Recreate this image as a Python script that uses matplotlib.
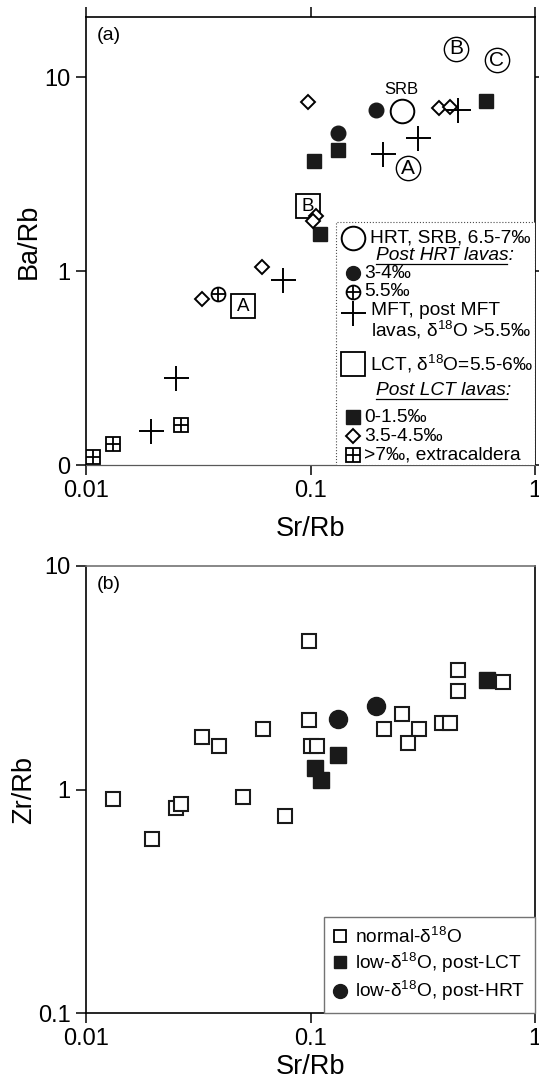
import matplotlib
matplotlib.use("Agg")
import matplotlib.pyplot as plt
from matplotlib.lines import Line2D
from matplotlib.patches import Rectangle
from matplotlib.ticker import NullLocator

plt.rcParams["font.family"] = ["Liberation Sans", "DejaVu Sans"]
plt.rcParams["mathtext.fontset"] = "custom"
plt.rcParams["mathtext.rm"] = "Liberation Sans"
plt.rcParams["mathtext.it"] = "Liberation Sans:italic"

D18 = r"δ$\mathregular{^{18}}$O"

# ---- panel (a): Ba/Rb vs Sr/Rb ----
hrt_x, hrt_y = [0.255], [6.65]                      # HRT, SRB
hrt_34_x, hrt_34_y = [0.195, 0.132], [6.8, 5.12]    # post HRT, 3-4 permil
hrt_55_x, hrt_55_y = [0.0388], [0.76]               # post HRT, 5.5 permil
mft_x = [0.453, 0.30, 0.21, 0.0757, 0.0252, 0.0195]
mft_y = [6.8, 4.83, 4.0, 0.90, 0.28, 0.149]
lct_x, lct_y, lct_lab = [0.050, 0.097], [0.66, 2.16], ["A", "B"]
lct_lo_x = [0.604, 0.132, 0.104, 0.11]              # post LCT, 0-1.5 permil
lct_lo_y = [7.57, 4.19, 3.68, 1.55]
lct_mid_x = [0.097, 0.373, 0.418, 0.106, 0.1026, 0.033, 0.061]   # 3.5-4.5
lct_mid_y = [7.48, 6.89, 6.97, 1.92, 1.81, 0.718, 1.05]
extra_x, extra_y = [0.0107, 0.0132, 0.0266], [0.11, 0.129, 0.16]  # >7 permil
circ_x, circ_y, circ_lab = [0.271, 0.444, 0.677], [3.39, 14.0, 12.2], ["A", "B", "C"]

# ---- panel (b): Zr/Rb vs Sr/Rb ----
norm_x = [0.0132, 0.0197, 0.0252, 0.0266, 0.033, 0.0393, 0.0617, 0.050, 0.0766,
          0.098, 0.098, 0.100, 0.107, 0.212, 0.255, 0.303, 0.271, 0.384, 0.418,
          0.453, 0.453, 0.72]
norm_y = [0.91, 0.60, 0.83, 0.857, 1.71, 1.56, 1.87, 0.93, 0.765,
          4.63, 2.05, 1.56, 1.56, 1.87, 2.18, 1.87, 1.62, 1.99, 1.99,
          3.43, 2.77, 3.03]
low_lct_x, low_lct_y = [0.61, 0.133, 0.105, 0.111], [3.10, 1.42, 1.25, 1.10]
low_hrt_x, low_hrt_y = [0.133, 0.195], [2.07, 2.37]

W, H = 539, 1086
fig = plt.figure(figsize=(W / 100, H / 100), dpi=100)
ax_a = fig.add_axes([86 / W, 1 - 465 / H, 449 / W, 448 / H])
ax_b = fig.add_axes([86 / W, 1 - 1013 / H, 449 / W, 447 / H])

for ax in (ax_a, ax_b):
    ax.set_xscale("log")
    ax.set_yscale("log")
    ax.set_xlim(0.01, 1)
    ax.xaxis.set_minor_locator(NullLocator())
    ax.yaxis.set_minor_locator(NullLocator())
    ax.set_xticks([0.01, 0.1, 1], ["0.01", "0.1", "1"])
    ax.tick_params(direction="out", length=7, width=1.1, labelsize=17, pad=4)
    for s in ax.spines.values():
        s.set_linewidth(1.2)

# panel (a)
ax = ax_a
ax.set_ylim(0.1, 20.4)
ax.set_yticks([0.1, 1, 10], ["0", "1", "10"])
ax.tick_params(top=True, right=True)
ax.spines["bottom"].set_color("0.35")
ax.spines["bottom"].set_linewidth(0.9)
ax.set_xlabel("Sr/Rb", fontsize=19.5, labelpad=10)
ax.set_ylabel("Ba/Rb", fontsize=19.5)
ax.yaxis.set_label_coords(-0.098, 0.5)

ax.plot(lct_x, lct_y, "s", ms=17, mfc="white", mec="k", mew=1.3, zorder=2)
for x, y, t in zip(lct_x, lct_y, lct_lab):
    ax.text(x, y, t, fontsize=13.5, ha="center", va="center", zorder=2.1)
ax.plot(circ_x, circ_y, "o", ms=17.5, mfc="white", mec="k", mew=1.0, zorder=2)
for x, y, t in zip(circ_x, circ_y, circ_lab):
    ax.text(x, y, t, fontsize=15, ha="center", va="center", zorder=2.1)
ax.plot(hrt_x, hrt_y, "o", ms=17, mfc="white", mec="k", mew=1.4, zorder=3)
ax.text(hrt_x[0], 8.6, "SRB", fontsize=12, ha="center", va="center")
ax.plot(lct_lo_x, lct_lo_y, "s", ms=10.5, color="#1a1a1a", zorder=3)
ax.plot(hrt_34_x, hrt_34_y, "o", ms=10.5, color="#1a1a1a", zorder=3)
ax.plot(lct_mid_x, lct_mid_y, "D", ms=7, mfc="white", mec="k", mew=1.4, zorder=4)
ax.plot(hrt_55_x, hrt_55_y, "o", ms=10, mfc="white", mec="k", mew=1.3, zorder=4)
ax.plot(hrt_55_x, hrt_55_y, "+", ms=10, mec="k", mew=1.3, zorder=4)
ax.plot(extra_x, extra_y, "s", ms=9.5, mfc="white", mec="k", mew=1.3, zorder=4)
ax.plot(extra_x, extra_y, "+", ms=9.5, mec="k", mew=1.3, zorder=4)
ax.plot(mft_x, mft_y, "+", ms=18, mec="k", mew=1.4, zorder=5)
ax.text(0.024, 0.978, "(a)", transform=ax.transAxes, fontsize=14, va="top")

# hand-built key for panel (a)
def ax_xy(px, py):
    return (px - 86) / 449, (465 - py) / 448

x0, y0 = ax_xy(336, 465)
ax.add_patch(Rectangle((x0, y0), 1 - x0, 0.5424, transform=ax.transAxes,
                       fill=True, fc="white", ec="0.3", lw=0.8, ls=":", zorder=6))

def key_marker(py, px=353, **kw):
    x, y = ax_xy(px, py)
    ax.plot([x], [y], transform=ax.transAxes, clip_on=False, ls="none", zorder=7, **kw)

def key_text(px, py, s, **kw):
    x, y = ax_xy(px, py)
    ax.text(x, y, s, transform=ax.transAxes, va="center", ha="left",
            fontsize=13.8, zorder=7, **kw)

def key_underline(px0, px1, py):
    xa, y = ax_xy(px0, py)
    xb, _ = ax_xy(px1, py)
    ax.plot([xa, xb], [y, y], transform=ax.transAxes, color="k", lw=0.9, zorder=7)

key_marker(238, marker="o", ms=17, mfc="white", mec="k", mew=1.4)
key_text(370, 238, "HRT, SRB, 6.5-7‰")
key_text(376, 255, "Post HRT lavas:", style="italic")
key_underline(376, 507, 264)
key_marker(273, marker="o", ms=10, color="#1a1a1a")
key_text(364, 273, "3-4‰")
key_marker(292, marker="o", ms=10, mfc="white", mec="k", mew=1.3)
key_marker(292, marker="+", ms=10, mec="k", mew=1.3)
key_text(364, 292, "5.5‰")
key_marker(313, marker="+", ms=18, mec="k", mew=1.4)
key_text(371, 310, "MFT, post MFT")
key_text(371, 330, "lavas, " + D18 + " >5.5‰")
key_marker(364, marker="s", ms=17, mfc="white", mec="k", mew=1.3)
key_text(370, 364, "LCT, " + D18 + "=5.5-6‰")
key_text(376, 390, "Post LCT lavas:", style="italic")
key_underline(376, 507, 399)
key_marker(417, marker="s", ms=10, color="#1a1a1a")
key_text(364, 417, "0-1.5‰")
key_marker(436, marker="D", ms=7, mfc="white", mec="k", mew=1.4)
key_text(364, 436, "3.5-4.5‰")
key_marker(455, marker="s", ms=9.5, mfc="white", mec="k", mew=1.3)
key_marker(455, marker="+", ms=9.5, mec="k", mew=1.3)
key_text(364, 455, ">7‰, extracaldera")

# panel (b)
ax = ax_b
ax.set_ylim(0.1, 10)
ax.set_yticks([0.1, 1, 10], ["0.1", "1", "10"])
ax.spines["top"].set_color("0.45")
ax.set_xlabel("Sr/Rb", fontsize=19.5, labelpad=3)
ax.set_ylabel("Zr/Rb", fontsize=19.5)
ax.yaxis.set_label_coords(-0.109, 0.5)
ax.plot(norm_x, norm_y, "s", ms=10, mfc="white", mec="#1a1a1a", mew=1.5)
ax.plot(low_lct_x, low_lct_y, "s", ms=11, color="#1a1a1a")
ax.plot(low_hrt_x, low_hrt_y, "o", ms=13, color="#1a1a1a")
ax.text(0.024, 0.978, "(b)", transform=ax.transAxes, fontsize=14, va="top")

handles = [
    Line2D([], [], ls="none", marker="s", ms=8.5, mfc="white", mec="k", mew=1.3),
    Line2D([], [], ls="none", marker="s", ms=8.5, color="#1a1a1a"),
    Line2D([], [], ls="none", marker="o", ms=10, color="#1a1a1a"),
]
labels = ["normal-" + D18, "low-" + D18 + ", post-LCT", "low-" + D18 + ", post-HRT"]
leg = ax.legend(handles, labels, loc="lower right", borderaxespad=0, fancybox=False,
                edgecolor="0.45", framealpha=1, fontsize=13.8, handlelength=0.7,
                handletextpad=0.45, borderpad=0.5, labelspacing=0.22)
leg.get_frame().set_linewidth(1.0)

fig.savefig("out.png", dpi=100)
